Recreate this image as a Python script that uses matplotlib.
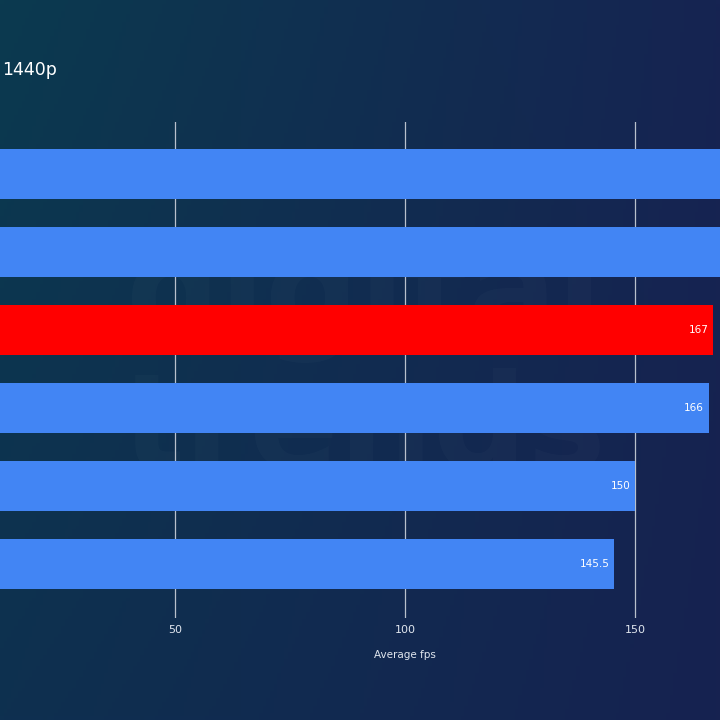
import matplotlib.pyplot as plt
import numpy as np

# data (top to bottom)
values = [182, 176, 167, 166, 150, 145.5]
value_labels = ['182', '176', '167', '166', '150', '145.5']
highlight = 2
xticks = [50, 100, 150]

W, H = 720, 720
fig = plt.figure(figsize=(7.2, 7.2), dpi=100)

# gradient background
bg = fig.add_axes([0, 0, 1, 1])
xx, yy = np.meshgrid(np.linspace(0, 1, 200), np.linspace(0, 1, 200))
c_tl = np.array([0x0b, 0x3a, 0x4f]) / 255
c_tr = np.array([0x16, 0x24, 0x52]) / 255
c_bl = np.array([0x0e, 0x30, 0x50]) / 255
c_br = np.array([0x16, 0x22, 0x50]) / 255
img = (c_tl * ((1 - xx) * (1 - yy))[..., None] + c_tr * (xx * (1 - yy))[..., None]
       + c_bl * ((1 - xx) * yy)[..., None] + c_br * (xx * yy)[..., None])
bg.imshow(img, extent=[0, 1, 0, 1], aspect='auto')
bg.axis('off')

# watermark
bg.text(0.505, 0.585, 'digital', fontsize=95, fontweight='bold', color='white',
        alpha=0.02, ha='center', va='center', family='DejaVu Sans')
bg.text(0.505, 0.40, 'trends', fontsize=95, fontweight='bold', color='white',
        alpha=0.02, ha='center', va='center', family='DejaVu Sans')

# axes: 0 fps at x=-55px, 4.6 px per fps
xmax = 180
left = -55
width = xmax * 4.6
top, bottom = 122, 618
ax = fig.add_axes([left / W, 1 - bottom / H, width / W, (bottom - top) / H])
ax.patch.set_alpha(0)

y = np.arange(len(values))
colors = ['#4285f4'] * len(values)
colors[highlight] = '#ff0000'
ax.barh(y, values, height=0.64, color=colors, zorder=3)
for yi, v, lab in zip(y, values, value_labels):
    if v < 168:  # labels of the longer bars fall outside the picture
        ax.text(v - 1.0, yi, lab, ha='right', va='center', color='white', fontsize=7.5, zorder=4)

ax.set_xlim(0, xmax)
ax.set_ylim(5.69, -0.67)
ax.set_xticks(xticks)
ax.set_yticks([])
ax.grid(axis='x', color='#b8c0cc', linewidth=0.9, zorder=1)
for s in ax.spines.values():
    s.set_visible(False)
ax.tick_params(axis='x', length=0, colors='#e0e6ee', labelsize=8, pad=5)

fig.text(405 / W, 1 - 655 / H, 'Average fps', ha='center', va='center', color='#e0e6ee', fontsize=7.5)
fig.text(2 / W, 1 - 70 / H, '1440p', ha='left', va='center', color='white', fontsize=12.5)

fig.savefig('out.png', dpi=100)
